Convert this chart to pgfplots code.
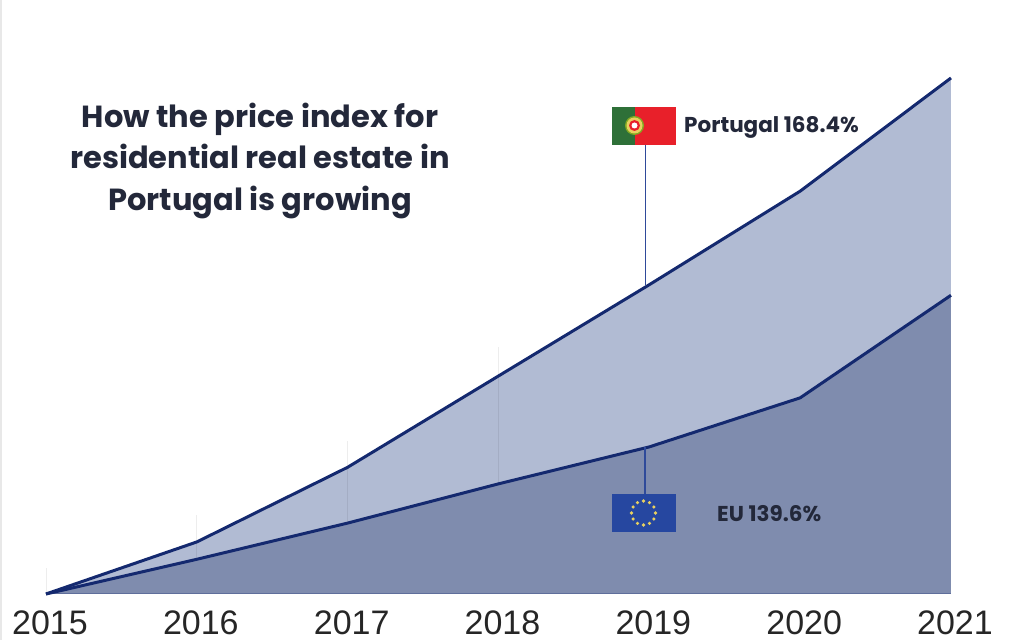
\documentclass[border=0pt]{standalone}
\usepackage{fontspec}
\setmainfont{Poppins}
\newfontfamily\tickfont{Liberation Sans}
\usepackage{pgfplots}
\pgfplotsset{compat=1.18}
\usetikzlibrary{calc}
\definecolor{lightarea}{HTML}{B1BBD3}
\definecolor{darkarea}{HTML}{7F8CAE}
\definecolor{linecol}{HTML}{14296F}
\definecolor{stemcol}{HTML}{2F4A9A}
\definecolor{txtcol}{HTML}{23283A}
\definecolor{ptgreen}{HTML}{2E7038}
\definecolor{ptred}{HTML}{E8202A}
\definecolor{eublue}{HTML}{2647A0}
\definecolor{eustar}{HTML}{E8D060}

\pgfplotstableread{
year portugal eu
2015 100.0 100.0
2016 106.9 104.6
2017 116.8 109.4
2018 128.9 114.6
2019 141.0 119.5
2020 153.4 126.0
2021 168.4 139.6
}\pricedata

\begin{document}
\begin{tikzpicture}[x=1pt,y=1pt]
\useasboundingbox (0,0) rectangle (1024,640);
\fill[white] (0,0) rectangle (1024,640);
\fill[gray!18] (0,0) rectangle (2,640);
\begin{axis}[
    at={(0,0)}, anchor=south west,
    scale only axis,
    width=1024pt, height=640pt,
    xmin=2014.695, xmax=2021.484,
    ymin=93.9, ymax=178.74,
    axis line style={draw=none},
    major tick length=0pt,
    ytick=\empty,
    xtick={2015,2016,2017,2018,2019,2020,2021},
    xticklabel style={/pgf/number format/1000 sep={}, /pgf/number format/assume math mode=true, font=\tickfont\fontsize{34}{34}\selectfont, text=black!85, anchor=base, yshift=6pt, xshift=4pt},
    unbounded coords=jump,
    clip=false,
]
% areas
\addplot[draw=none, fill=lightarea, no marks, forget plot] coordinates {
    (2015,100) (2016,106.9) (2017,116.8) (2018,128.9) (2019,141.0) (2020,153.4) (2021,168.4) (2021,100)
} -- cycle;
% faint gridlines, they also show through the light area
\addplot[draw=black, opacity=0.07, line width=1pt, no marks] coordinates {
    (2015,100) (2015,103.4) (2015,nan)
    (2016,100) (2016,110.5) (2016,nan)
    (2017,100) (2017,120.3) (2017,nan)
    (2018,100) (2018,132.8)
};
\addplot[draw=none, fill=darkarea, no marks, forget plot] coordinates {
    (2015,100) (2016,104.6) (2017,109.4) (2018,114.6) (2019,119.5) (2020,126.0) (2021,139.6) (2021,100)
} -- cycle;
\addplot[darkarea!70!linecol, line width=1pt, no marks] coordinates {(2015,100) (2021,100)};
\addplot[linecol, line width=3pt, line join=round, no marks] table[x=year, y=portugal] {\pricedata};
\addplot[linecol, line width=3pt, line join=round, no marks] table[x=year, y=eu] {\pricedata};
\end{axis}

% annotations in reference pixels, origin top left
\begin{scope}[shift={(0,640)}, y=-1pt]
\draw[stemcol, line width=1.6pt] (645.5,145) -- (645.5,285);
\draw[stemcol, line width=2pt] (645,447) -- (645,494);
% Portuguese flag
\fill[ptred] (612,107) rectangle (676,145);
\fill[ptgreen] (612,107) rectangle (635,145);
\fill[ptgreen!60!yellow] (634.5,125.5) circle (9.5);
\fill[eustar] (634.5,125.5) circle (8);
\fill[ptred] (634.5,125.5) circle (5.5);
\fill[white] (634.5,125.5) circle (3);
% EU flag
\fill[eublue] (612,494) rectangle (676,532);
\foreach \a in {0,30,...,330}
  \fill[eustar] ($(643.5,513)+(\a:12)$) circle (1.8);
\node[anchor=base west, text=txtcol, font=\bfseries\fontsize{21.5}{21.5}\selectfont, inner sep=0] at (684,133) {Portugal 168.4\%};
\node[anchor=base west, text=txtcol, font=\bfseries\fontsize{21.5}{21.5}\selectfont, inner sep=0] at (717,521) {EU 139.6\%};
\node[anchor=base, text=txtcol, font=\bfseries\fontsize{30.5}{30.5}\selectfont, inner sep=0] at (260,128) {How the price index for};
\node[anchor=base, text=txtcol, font=\bfseries\fontsize{30.5}{30.5}\selectfont, inner sep=0] at (260,169) {residential real estate in};
\node[anchor=base, text=txtcol, font=\bfseries\fontsize{30.5}{30.5}\selectfont, inner sep=0] at (260,211) {Portugal is growing};
\end{scope}
\end{tikzpicture}
\end{document}
